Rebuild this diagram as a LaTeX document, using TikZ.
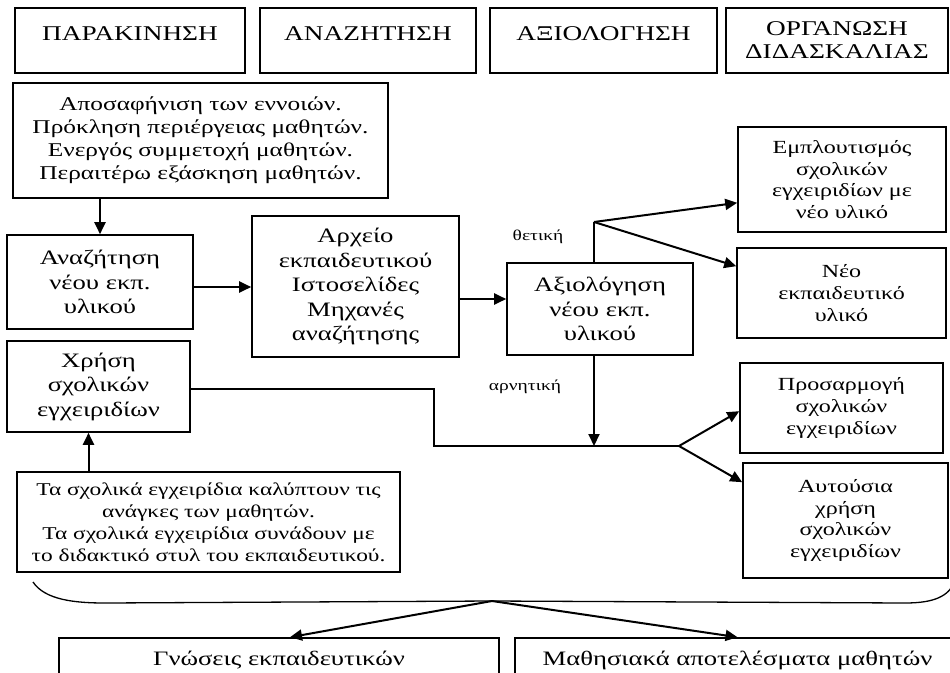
\documentclass[tikz,border=0pt]{standalone}
\usepackage{fontspec}
\setmainfont{Liberation Serif}[FakeStretch=1.3]
\usetikzlibrary{arrows.meta}
\begin{document}
\begin{tikzpicture}[x=1pt,y=-1pt,
  box/.style={draw,line width=1.6pt,align=center,inner sep=0pt},
  headtxt/.style={font=\fontsize{21}{23}\selectfont},
  bigtxt/.style={font=\fontsize{20.5}{24.5}\selectfont},
  midtxt/.style={font=\fontsize{19.5}{23}\selectfont},
  sidetxt/.style={font=\fontsize{18.5}{21.8}\selectfont},
  smalltxt/.style={font=\fontsize{18}{22}\selectfont},
  labeltxt/.style={font=\fontsize{15}{18}\selectfont},
  arr/.style={line width=2pt,-{Triangle[length=12pt,width=11pt]}},
  plain/.style={line width=2pt},
  thinline/.style={line width=1.3pt},
]
\useasboundingbox (0,0) rectangle (950,672);
\clip (0,0) rectangle (950,672);

% header row (single titles sit in the upper part of the box)
\node[box,headtxt,minimum width=230,minimum height=65] (h1) at (130,40.5) {ΠΑΡΑΚΙΝΗΣΗ\\[-10pt]\mbox{}};
\node[box,headtxt,minimum width=216,minimum height=65] (h2) at (368,40.5) {ΑΝΑΖΗΤΗΣΗ\\[-10pt]\mbox{}};
\node[box,headtxt,minimum width=227,minimum height=65] (h3) at (603.5,40.5) {ΑΞΙΟΛΟΓΗΣΗ\\[-10pt]\mbox{}};
\node[box,headtxt,minimum width=222,minimum height=65] (h4) at (837,40.5) {ΟΡΓΑΝΩΣΗ\\ΔΙΔΑΣΚΑΛΙΑΣ};

% motivation
\node[box,midtxt,minimum width=375,minimum height=115] (mot) at (200.5,140.5)
  {Αποσαφήνιση των εννοιών.\\Πρόκληση περιέργειας μαθητών.\\Ενεργός συμμετοχή μαθητών.\\Περαιτέρω εξάσκηση μαθητών.};

% search and sources
\node[box,bigtxt,minimum width=186,minimum height=94] (search) at (100,282) {Αναζήτηση\\νέου εκπ.\\υλικού};
\node[box,bigtxt,minimum width=207,minimum height=141] (archive) at (355.5,286.5)
  {Αρχείο\\εκπαιδευτικού\\Ιστοσελίδες\\Μηχανές\\αναζήτησης};
\node[box,bigtxt,minimum width=183,minimum height=91] (use) at (98.5,386.5) {Χρήση\\σχολικών\\εγχειριδίων};
\node[box,bigtxt,minimum width=186,minimum height=92] (eval) at (600,309) {Αξιολόγηση\\νέου εκπ.\\υλικού};

% outcomes
\node[box,sidetxt,minimum width=208,minimum height=105] (enrich) at (842,179.5)
  {Εμπλουτισμός\\σχολικών\\εγχειριδίων με\\νέο υλικό};
\node[box,sidetxt,minimum width=209,minimum height=90] (newmat) at (841.5,293) {Νέο\\εκπαιδευτικό\\υλικό};
\node[box,sidetxt,minimum width=203,minimum height=90] (adapt) at (841.5,408) {Προσαρμογή\\σχολικών\\εγχειριδίων};
\node[box,sidetxt,minimum width=205,minimum height=115] (asis) at (845.5,520.5)
  {Αυτούσια\\χρήση\\σχολικών\\εγχειριδίων};

% conditions
\node[box,smalltxt,minimum width=383,minimum height=100] (cond) at (208.5,522)
  {Τα σχολικά εγχειρίδια καλύπτουν τις\\ανάγκες των μαθητών.\\Τα σχολικά εγχειρίδια συνάδουν με\\το διδακτικό στυλ του εκπαιδευτικού.};

% results
\node[box,bigtxt,minimum width=440,minimum height=44] (know) at (279,660) {Γνώσεις εκπαιδευτικών};
\node[box,bigtxt,minimum width=445,minimum height=44] (learn) at (737.5,660) {Μαθησιακά αποτελέσματα μαθητών};

% branch labels
\node[labeltxt] (pos) at (538,237) {θετική};
\node[labeltxt] (neg) at (525,387) {αρνητική};

% junction points
\coordinate (posfork) at (594,222);
\coordinate (negjoin) at (594,446);
\coordinate (ujog) at (434,446);
\coordinate (rfork) at (679,446);
\coordinate (bracetip) at (492,601);

% connectors
\draw[arr] (search.north |- mot.south) -- (search.north);
\draw[arr] ([yshift=-5pt]search.east) -- ([yshift=-5pt]search.east -| archive.west);
\draw[arr] ([yshift=10pt]eval.west -| archive.east) -- ([yshift=10pt]eval.west);
\draw[plain] (posfork |- eval.north) -- (posfork);
\draw[arr] (posfork) -- ([yshift=30pt]enrich.south west);
\draw[arr] (posfork) -- ([yshift=-19pt]newmat.north west);
\draw[arr] (posfork |- eval.south) -- (negjoin);
\draw[thinline] ([yshift=-2.5pt]use.east) -| (ujog) -- (rfork);
\draw[arr] (rfork) -- ([yshift=-49pt]adapt.north west);
\draw[arr] (rfork) -- ([yshift=-20pt]asis.north west);
\draw[arr] ([xshift=-10pt]use.south |- cond.north) -- ([xshift=-10pt]use.south);

% brace gathering the cases
\draw[thinline] (33,582) .. controls (45,600) and (75,603) .. (105,603)
  -- (bracetip) -- (905,603) .. controls (935,603) and (948,596) .. (955,582);
\draw[arr] (bracetip) -- ([xshift=11pt]know.north);
\draw[arr] (bracetip) -- (learn.north);
\end{tikzpicture}
\end{document}
